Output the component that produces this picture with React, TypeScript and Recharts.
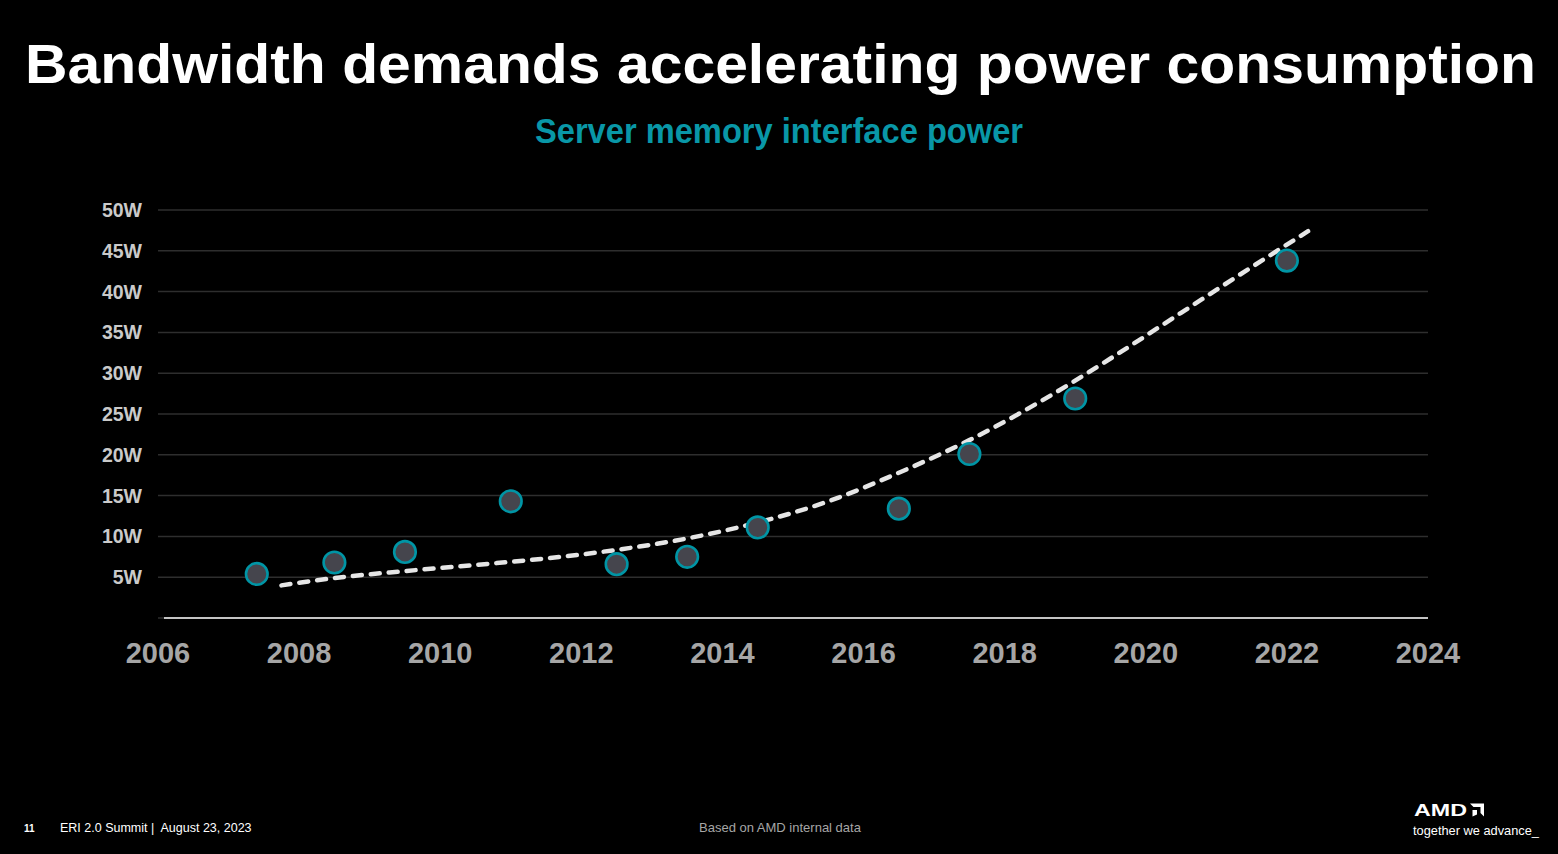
import React from 'react';
import {
  ComposedChart,
  Scatter,
  Line,
  XAxis,
  YAxis,
  CartesianGrid,
  ReferenceLine,
} from 'recharts';

// Measured data points (year, watts)
const years = [2007.4, 2008.5, 2009.5, 2011.0, 2012.5, 2013.5, 2014.5, 2016.5, 2017.5, 2019.0, 2022.0];
const power = [5.4, 6.8, 8.1, 14.3, 6.6, 7.5, 11.1, 13.4, 20.1, 26.9, 43.8];

// Dashed trend line
const trendYears = [2007.75, 2008.5, 2009.5, 2010.5, 2011.5, 2012.5, 2013.5, 2014.5, 2015.5, 2016.5, 2017.5, 2018.5, 2019.5, 2020.5, 2021.5, 2022.3];
const trendPower = [4.0, 4.9, 5.75, 6.5, 7.3, 8.35, 9.75, 11.7, 14.3, 17.8, 21.8, 26.5, 31.8, 37.4, 43.0, 47.4];

const xTicks = [2006, 2008, 2010, 2012, 2014, 2016, 2018, 2020, 2022, 2024];
const yTicks = [5, 10, 15, 20, 25, 30, 35, 40, 45, 50];

const title = 'Bandwidth demands accelerating power consumption';
const subtitle = 'Server memory interface power';

const pointData = years.map((x, i) => ({ x, y: power[i] }));
const trendData = trendYears.map((x, i) => ({ x, y: trendPower[i] }));

const FONT = '"Liberation Sans", Arial, Helvetica, sans-serif';

const Dot = (props: any) => {
  const { cx, cy } = props;
  if (cx == null || cy == null) return null;
  return <circle cx={cx} cy={cy} r={10.8} fill="#45454d" stroke="#0095a5" strokeWidth={2.6} />;
};

export default function App() {
  return (
    <div
      style={{
        position: 'absolute',
        left: 0,
        top: 0,
        width: 1558,
        height: 854,
        background: '#000',
        fontFamily: FONT,
        overflow: 'hidden',
      }}
    >
      <div style={{ position: 'absolute', left: 0, top: 0 }}>
        <ComposedChart
          width={1558}
          height={700}
          margin={{ top: 210, right: 130, left: 0, bottom: 0 }}
        >
          <CartesianGrid horizontal vertical={false} stroke="#2e2e2e" strokeWidth={1.5} />
          <XAxis
            type="number"
            dataKey="x"
            domain={[2006, 2024]}
            ticks={xTicks}
            allowDataOverflow
            height={82}
            axisLine={false}
            tickLine={false}
            tickSize={0}
            tickMargin={24}
            tick={{ fill: '#a6a6a6', fontSize: 29, fontWeight: 700, fontFamily: FONT }}
            interval={0}
          />
          <YAxis
            type="number"
            dataKey="y"
            domain={[0, 50]}
            ticks={yTicks}
            width={158}
            axisLine={false}
            tickLine={false}
            tickSize={0}
            tickMargin={16}
            tickFormatter={(v: number) => `${v}W`}
            tick={{ fill: '#cacaca', fontSize: 19.5, fontWeight: 700, fontFamily: FONT }}
            interval={0}
          />
          <ReferenceLine
            segment={[{ x: 2006.085, y: 0 }, { x: 2024, y: 0 }]}
            stroke="#c4c4c4"
            strokeWidth={2}
            ifOverflow="visible"
          />
          <Scatter data={pointData} dataKey="y" shape={<Dot />} isAnimationActive={false} />
          <Line
            data={trendData}
            dataKey="y"
            type="monotone"
            stroke="#e6e6e6"
            strokeWidth={4.5}
            strokeDasharray="9 9"
            strokeLinecap="round"
            dot={false}
            activeDot={false}
            isAnimationActive={false}
          />
        </ComposedChart>
      </div>
      <svg
        width={1558}
        height={854}
        style={{ position: 'absolute', left: 0, top: 0, pointerEvents: 'none' }}
        fontFamily={FONT}
      >
        <text
          x={780.5}
          y={83}
          textAnchor="middle"
          fontSize={56}
          fontWeight={700}
          fill="#ffffff"
          textLength={1511}
          lengthAdjust="spacingAndGlyphs"
        >
          {title}
        </text>
        <text
          x={779}
          y={142.7}
          textAnchor="middle"
          fontSize={35}
          fontWeight={700}
          fill="#0997a7"
          textLength={488}
          lengthAdjust="spacingAndGlyphs"
        >
          {subtitle}
        </text>
        <text x={24} y={832} fontSize={10} fontWeight={700} fill="#ffffff">
          11
        </text>
        <text x={60} y={831.7} fontSize={12.5} fill="#ffffff" style={{ whiteSpace: 'pre' }}>
          {'ERI 2.0 Summit |  August 23, 2023'}
        </text>
        <text x={780} y={831.7} textAnchor="middle" fontSize={13} fill="#a6a6a6">
          Based on AMD internal data
        </text>
        <text
          x={1414}
          y={816}
          fontSize={17}
          fontWeight={700}
          fill="#ffffff"
          textLength={53}
          lengthAdjust="spacingAndGlyphs"
        >
          AMD
        </text>
        <g transform="translate(1470,803.5)" fill="#ffffff">
          <path d="M0 0 L14 0 L14 13 L10.5 9.5 L10.5 3.5 L3.5 3.5 Z" />
          <path d="M2.5 6.5 L7 6.5 L7 11 L2.5 13 Z" />
        </g>
        <text
          x={1413}
          y={835}
          fontSize={13}
          fill="#ffffff"
          textLength={126}
          lengthAdjust="spacingAndGlyphs"
        >
          together we advance_
        </text>
      </svg>
    </div>
  );
}
